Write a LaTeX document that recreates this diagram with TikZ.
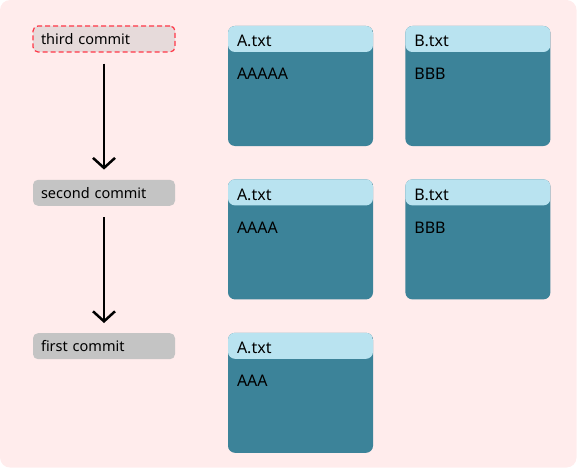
\documentclass[tikz,border=0pt]{standalone}
\usepackage{fontspec}
\setmainfont{Noto Sans}
\usetikzlibrary{positioning,arrows.meta}
\definecolor{bgpink}{HTML}{FFECEC}
\definecolor{commitgray}{HTML}{C4C4C4}
\definecolor{headcommit}{HTML}{E6DADA}
\definecolor{dashred}{HTML}{FF3848}
\definecolor{headblue}{HTML}{B9E3F0}
\definecolor{bodyteal}{HTML}{3C8399}
\tikzset{commitnode/.style={rectangle, rounded corners=5pt, fill=commitgray, minimum width=142pt, minimum height=26pt, text width=126pt, align=left, inner sep=0pt, font=\fontsize{14.5}{16}\selectfont},
headnode/.style={commitnode, fill=headcommit, draw=dashred, line width=1.2pt, dash pattern=on 5pt off 3pt},
filenode/.style={rectangle, rounded corners=7pt, fill=bodyteal, minimum width=145pt, minimum height=120pt, inner sep=0pt,
  path picture={\fill[headblue] (path picture bounding box.north west) rectangle ([yshift=-26pt]path picture bounding box.north east);}},
filetext/.style={anchor=base west, inner sep=0pt, font=\fontsize{16}{18}\selectfont},
history/.style={line width=2.5pt, -{Straight Barb[length=10pt,width=22pt]}, shorten <=11pt, shorten >=10pt},}

\begin{document}
\begin{tikzpicture}[x=1pt, y=-1pt]
\useasboundingbox (0,0) rectangle (577,468);
\fill[bgpink, rounded corners=10pt] (0,0) rectangle (576.5,467.5);
% commits
\node [headnode] (c3) at (104,39) {third commit};
\node [commitnode] (c2) [below=127pt of c3] {second commit};
\node [commitnode] (c1) [below=127pt of c2] {first commit};
\draw[history] (c3) -- (c2);
\draw[history] (c2) -- (c1);
% files
\node [filenode] (a3) at (300.5,86) {};
\node [filenode] (b3) [right=32pt of a3] {};
\node [filenode] (a2) [below=33pt of a3] {};
\node [filenode] (b2) [right=32pt of a2] {};
\node [filenode] (a1) [below=33pt of a2] {};
\node [filetext] (a3t) at ([xshift=9pt, yshift=-21pt]a3.north west) {A.txt};
\node [filetext] (a3c) at ([xshift=9pt, yshift=-54pt]a3.north west) {AAAAA};
\node [filetext] (b3t) at ([xshift=9pt, yshift=-21pt]b3.north west) {B.txt};
\node [filetext] (b3c) at ([xshift=9pt, yshift=-54pt]b3.north west) {BBB};
\node [filetext] (a2t) at ([xshift=9pt, yshift=-21pt]a2.north west) {A.txt};
\node [filetext] (a2c) at ([xshift=9pt, yshift=-54pt]a2.north west) {AAAA};
\node [filetext] (b2t) at ([xshift=9pt, yshift=-21pt]b2.north west) {B.txt};
\node [filetext] (b2c) at ([xshift=9pt, yshift=-54pt]b2.north west) {BBB};
\node [filetext] (a1t) at ([xshift=9pt, yshift=-21pt]a1.north west) {A.txt};
\node [filetext] (a1c) at ([xshift=9pt, yshift=-54pt]a1.north west) {AAA};
\end{tikzpicture}
\end{document}
